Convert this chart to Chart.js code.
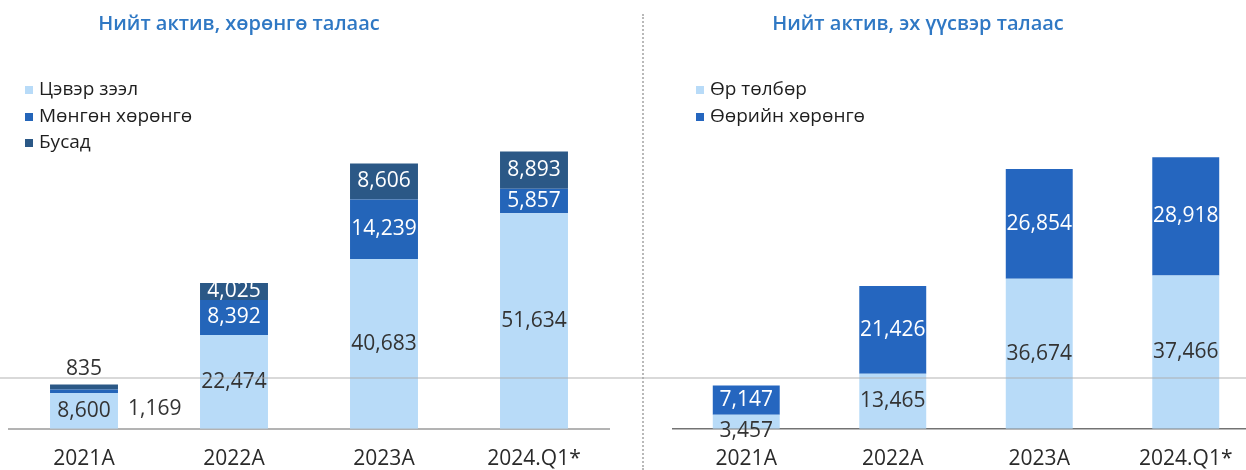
<!DOCTYPE html>
<html lang="mn">
<head>
<meta charset="utf-8">
<title>Нийт актив</title>
<script src="https://cdn.jsdelivr.net/npm/chart.js@4.4.1/dist/chart.umd.min.js"></script>
<style>
  html, body { margin: 0; padding: 0; background: #fff; overflow: hidden; }
  body { width: 1246px; height: 470px; position: relative; font-family: 'Open Sans', sans-serif; }
  .panel { position: absolute; top: 0; height: 492px; }
  #leftPanel { left: 0; width: 640px; }
  #rightPanel { left: 640px; width: 630px; }
  .chart-title {
    position: absolute; top: 9px; transform: translateX(-50%);
    white-space: nowrap; color: #2f78c4; font-size: 20px; font-weight: 600;
  }
  .legend { position: absolute; top: 75px; }
  .legend .item { height: 26.5px; line-height: 26.5px; font-size: 19px; color: #1e1e1e; white-space: nowrap; }
  .legend .box { display: inline-block; width: 8px; height: 8px; margin-right: 6px; vertical-align: 1px; }
  .divider { position: absolute; left: 642px; top: 14px; height: 456px; border-left: 2px dotted #b9b9b9; }
  .page-rule { position: absolute; left: 0; top: 377px; width: 1246px; height: 2px; background: rgba(170,170,170,0.45); }
</style>
</head>
<body>

<div id="leftPanel" class="panel">
  <canvas id="assetChart" width="640" height="492"></canvas>
</div>
<div id="rightPanel" class="panel">
  <canvas id="sourceChart" width="630" height="492"></canvas>
</div>

<div class="chart-title" style="left:239px">Нийт актив, хөрөнгө талаас</div>
<div class="chart-title" style="left:918px">Нийт актив, эх үүсвэр талаас</div>
<div id="assetLegend" class="legend" style="left:25px"></div>
<div id="sourceLegend" class="legend" style="left:696px"></div>
<div class="divider"></div>
<div class="page-rule"></div>

<script>
'use strict';

/* ---- DATA (сая төгрөг) ------------------------------------ */
const categories = ['2021A', '2022A', '2023A', '2024.Q1*'];

// Хөрөнгө талаас
const netLoans    = [8600, 22474, 40683, 51634];
const cashAssets  = [835, 8392, 14239, 5857];
const otherAssets = [1169, 4025, 8606, 8893];

// Эх үүсвэр талаас
const liabilities = [3457, 13465, 36674, 37466];
const equity      = [7147, 21426, 26854, 28918];

const COLORS = {
  light: '#b8dbf8',
  mid: '#2465b9',
  dark: '#2b5886',
  equity: '#2566bf',
};

const FONT = "'Open Sans', sans-serif";

/* ---- VALUE LABELS PLUGIN ---------------------------------- */
// Draws each segment value in the middle of its bar piece.
// Small segments can be moved with per-point overrides "dataset:index".
const barLabels = {
  id: 'barLabels',
  afterDatasetsDraw(chart, args, opts) {
    const { ctx } = chart;
    const overrides = opts.overrides || {};
    ctx.save();
    ctx.font = `500 21px ${FONT}`;
    ctx.textBaseline = 'middle';
    chart.data.datasets.forEach((ds, di) => {
      const meta = chart.getDatasetMeta(di);
      meta.data.forEach((bar, i) => {
        const o = overrides[`${di}:${i}`] || {};
        const text = Number(ds.data[i]).toLocaleString('en-US');
        let x = bar.x;
        let y = (bar.y + bar.base) / 2 + (o.dy || 0);
        ctx.textAlign = 'center';
        if (o.side === 'right') {
          x = bar.x + bar.width / 2 + 10;
          ctx.textAlign = 'left';
        }
        ctx.fillStyle = o.color || ds.labelColor;
        ctx.fillText(text, x, y);
      });
    });
    ctx.restore();
  }
};

/* ---- CHART FACTORY ---------------------------------------- */
function stackedBars(canvasId, datasets, cfg) {
  return new Chart(document.getElementById(canvasId), {
    type: 'bar',
    data: { labels: categories, datasets },
    options: {
      responsive: false,
      animation: false,
      layout: { padding: { top: 60, bottom: 2, left: cfg.padLeft, right: cfg.padRight } },
      datasets: { bar: { categoryPercentage: 1, barPercentage: cfg.barPct } },
      plugins: {
        legend: { display: false },
        tooltip: { enabled: false },
        barLabels: { overrides: cfg.overrides },
      },
      scales: {
        x: {
          stacked: true,
          grid: { display: false, drawTicks: false },
          border: { display: true, color: cfg.baseColor, width: cfg.baseWidth, dash: cfg.baseDash },
          ticks: { padding: 18, color: '#2a2a2a', font: { family: FONT, size: 21 } },
        },
        y: { stacked: true, display: false, min: 0, max: cfg.yMax },
      },
    },
    plugins: [barLabels],
  });
}

const assetChart = stackedBars('assetChart', [
  { label: 'Цэвэр зээл', data: netLoans, backgroundColor: COLORS.light, labelColor: '#333' },
  { label: 'Мөнгөн хөрөнгө', data: cashAssets, backgroundColor: COLORS.mid, labelColor: '#fff' },
  { label: 'Бусад', data: otherAssets, backgroundColor: COLORS.dark, labelColor: '#fff' },
], {
  padLeft: 9, padRight: 31, barPct: 0.453, yMax: 88320,
  baseColor: 'rgba(160,160,160,0.8)', baseWidth: 2, baseDash: [],
  overrides: {
    '1:0': { dy: -22, color: '#333' },
    '2:0': { dy: 22, side: 'right', color: '#333' },
  },
});

const sourceChart = stackedBars('sourceChart', [
  { label: 'Өр төлбөр', data: liabilities, backgroundColor: COLORS.light, labelColor: '#333' },
  { label: 'Өөрийн хөрөнгө', data: equity, backgroundColor: COLORS.equity, labelColor: '#fff' },
], {
  padLeft: 33, padRight: 11, barPct: 0.457, yMax: 90160,
  baseColor: 'rgba(80,80,80,0.8)', baseWidth: 1.5, baseDash: [6, 4],
  overrides: {
    '0:0': { dy: 9 },
  },
});

/* ---- HTML LEGENDS ----------------------------------------- */
function buildLegend(chart, elId) {
  const wrap = document.getElementById(elId);
  chart.data.datasets.forEach(ds => {
    wrap.insertAdjacentHTML('beforeend',
      `<div class="item"><span class="box" style="background:${ds.backgroundColor}"></span>${ds.label}</div>`);
  });
}
buildLegend(assetChart, 'assetLegend');
buildLegend(sourceChart, 'sourceLegend');
</script>
</body>
</html>
